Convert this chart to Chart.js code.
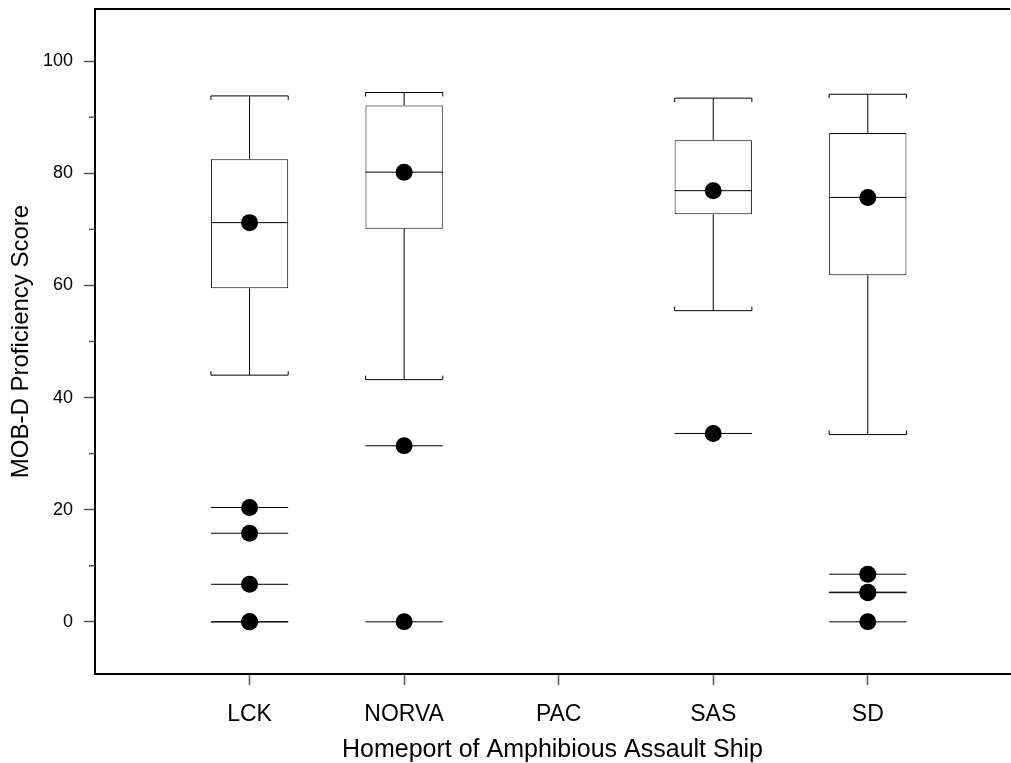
<!DOCTYPE html>
<html>
<head>
<meta charset="utf-8">
<title>MOB-D Proficiency Score by Homeport</title>
<script src="https://cdn.jsdelivr.net/npm/chart.js@4.4.1/dist/chart.umd.min.js"></script>
<style>
    html, body { margin: 0; padding: 0; background: #fff; }
    #wrap { width: 1011px; height: 763px; }
</style>
</head>
<body>
<div id="wrap"><canvas id="boxChart"></canvas></div>
<script>
// Box plot values per homeport (PAC has no data)
const homeports = ['LCK', 'NORVA', 'PAC', 'SAS', 'SD'];
const whiskerLow = [44.0, 43.2, null, 55.5, 33.4];
const quartile1 = [59.5, 70.1, null, 72.7, 61.8];
const medians = [71.2, 80.2, null, 76.9, 75.7];
const quartile3 = [82.5, 92.1, null, 85.9, 87.2];
const whiskerHigh = [93.8, 94.4, null, 93.4, 94.1];
const outliers = [
    [20.4, 15.8, 6.7, 0, 0],
    [31.4, 0],
    [],
    [33.6],
    [8.5, 5.3, 5.2, 0]
];

const yTicks = [0, 20, 40, 60, 80, 100];
const yMinorTicks = [10, 30, 50, 70, 90];

const FONT = "'Liberation Sans', Arial, sans-serif";

// only the homeports that have a box
const boxRows = [];
homeports.forEach((name, i) => {
    if (medians[i] === null) return;
    boxRows.push({
        x: i + 1,
        low: whiskerLow[i], q1: quartile1[i], median: medians[i],
        q3: quartile3[i], high: whiskerHigh[i], out: outliers[i]
    });
});

const boxData = boxRows.map(r => ({ x: r.x, y: [r.q1, r.q3] }));

const dotData = [];
boxRows.forEach(r => {
    dotData.push({ x: r.x, y: r.median });
    r.out.forEach(v => dotData.push({ x: r.x, y: v }));
});

// whiskers, caps, median lines and outlier lines on top of the boxes
const boxLines = {
    id: 'boxLines',
    afterDatasetDraw(chart, args) {
        if (args.index !== 0) return;
        const ctx = chart.ctx;
        const yScale = chart.scales.y;
        const bars = args.meta.data;
        const seg = (x1, y1, x2, y2) => {
            ctx.beginPath();
            ctx.moveTo(x1, y1);
            ctx.lineTo(x2, y2);
            ctx.stroke();
        };
        ctx.save();
        ctx.strokeStyle = '#000';
        ctx.lineWidth = 1;
        boxRows.forEach((r, k) => {
            const bar = bars[k];
            const half = bar.width / 2;
            const left = bar.x - half;
            const right = bar.x + half;
            const yMed = yScale.getPixelForValue(r.median);
            const yQ1 = yScale.getPixelForValue(r.q1);
            const yQ3 = yScale.getPixelForValue(r.q3);
            const yLow = yScale.getPixelForValue(r.low);
            const yHigh = yScale.getPixelForValue(r.high);

            seg(left, yMed, right, yMed);

            // upper whisker and cap
            seg(bar.x, yQ3, bar.x, yHigh);
            seg(left, yHigh, right, yHigh);
            seg(left, yHigh, left, yHigh + 4);
            seg(right, yHigh, right, yHigh + 4);

            // lower whisker and cap
            seg(bar.x, yQ1, bar.x, yLow);
            seg(left, yLow, right, yLow);
            seg(left, yLow, left, yLow - 4);
            seg(right, yLow, right, yLow - 4);

            r.out.forEach(v => {
                const yo = yScale.getPixelForValue(v);
                seg(left, yo, right, yo);
            });
        });
        ctx.restore();
    }
};

// top frame line and the short minor ticks on the y axis
const frameAndMinor = {
    id: 'frameAndMinor',
    afterDraw(chart) {
        const ctx = chart.ctx;
        const area = chart.chartArea;
        const yScale = chart.scales.y;
        ctx.save();
        ctx.strokeStyle = '#000';
        ctx.lineWidth = 2;
        ctx.beginPath();
        ctx.moveTo(area.left - 1, area.top);
        ctx.lineTo(area.right, area.top);
        ctx.stroke();

        ctx.strokeStyle = '#555';
        ctx.lineWidth = 1.5;
        yMinorTicks.forEach(v => {
            const py = yScale.getPixelForValue(v);
            ctx.beginPath();
            ctx.moveTo(area.left - 6, py);
            ctx.lineTo(area.left, py);
            ctx.stroke();
        });
        ctx.restore();
    }
};

const ctx = document.getElementById('boxChart').getContext('2d');

new Chart(ctx, {
    type: 'bar',
    data: {
        datasets: [
            {
                type: 'bar',
                label: 'IQR',
                data: boxData,
                backgroundColor: '#fff',
                borderColor: '#000',
                borderWidth: 1,
                borderSkipped: false,
                categoryPercentage: 1,
                barPercentage: 0.5,
                order: 2
            },
            {
                type: 'scatter',
                label: 'Scores',
                data: dotData,
                backgroundColor: '#000',
                borderWidth: 0,
                pointRadius: 8.5,
                order: 1
            }
        ]
    },
    options: {
        responsive: true,
        maintainAspectRatio: false,
        devicePixelRatio: 1,
        animation: false,
        layout: {
            autoPadding: false,
            padding: { top: 9, left: 0, right: 1, bottom: 0 }
        },
        plugins: {
            legend: { display: false },
            tooltip: { enabled: false }
        },
        scales: {
            x: {
                type: 'linear',
                offset: false,
                min: 0,
                max: 5.92,
                afterBuildTicks: scale => {
                    scale.ticks = homeports.map((h, i) => ({ value: i + 1 }));
                },
                afterFit: scale => {
                    scale.height = 89;
                    scale.paddingLeft = 0;
                    scale.paddingRight = 0;
                },
                ticks: {
                    autoSkip: false,
                    maxRotation: 0,
                    padding: 16,
                    color: '#000',
                    font: { family: FONT, size: 23 },
                    callback: value => homeports[value - 1]
                },
                grid: {
                    offset: false,
                    drawOnChartArea: false,
                    tickLength: 11,
                    tickColor: '#555',
                    tickWidth: 1.5
                },
                border: { color: '#000', width: 2 },
                title: {
                    display: true,
                    text: 'Homeport of Amphibious Assault Ship',
                    color: '#000',
                    font: { family: FONT, size: 25 },
                    padding: { top: 0, bottom: -2 }
                }
            },
            y: {
                min: -9.3,
                max: 109.3,
                afterBuildTicks: scale => {
                    scale.ticks = yTicks.map(v => ({ value: v }));
                },
                afterFit: scale => {
                    scale.width = 95;
                    scale.paddingTop = 0;
                    scale.paddingBottom = 0;
                },
                ticks: {
                    padding: 11,
                    color: '#000',
                    font: { family: FONT, size: 18 }
                },
                grid: {
                    drawOnChartArea: false,
                    tickLength: 11,
                    tickColor: '#555',
                    tickWidth: 1.5
                },
                border: { color: '#000', width: 2 },
                title: {
                    display: true,
                    text: 'MOB-D Proficiency Score',
                    color: '#000',
                    font: { family: FONT, size: 24 },
                    padding: { top: 7, bottom: 0 }
                }
            }
        }
    },
    plugins: [boxLines, frameAndMinor]
});
</script>
</body>
</html>
